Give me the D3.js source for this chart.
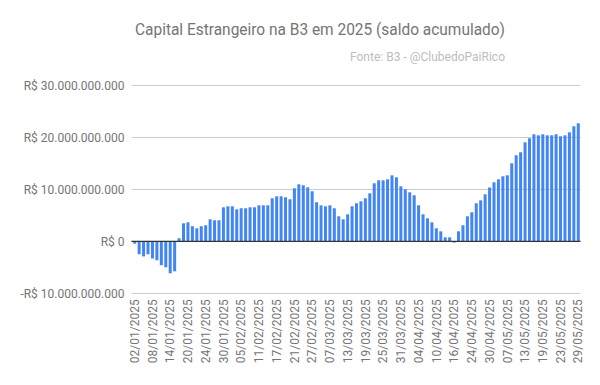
<!DOCTYPE html>
<html>
<head>
<meta charset="utf-8">
<script src="https://cdn.jsdelivr.net/npm/d3@7"></script>
<style>
  body { margin: 0; background: #fff; }
  svg { font-family: Roboto, "Noto Sans", sans-serif; }
</style>
</head>
<body>
<div id="chart"></div>
<script>
// Datas dos pregões (dd/mm/2025)
const dates = [
  "02/01","03/01","06/01","07/01","08/01","09/01","10/01","13/01","14/01","15/01","16/01","17/01","20/01","21/01","22/01","23/01","24/01","27/01","28/01","29/01","30/01","31/01",
  "03/02","04/02","05/02","06/02","07/02","10/02","11/02","12/02","13/02","14/02","17/02","18/02","19/02","20/02","21/02","24/02","25/02","26/02","27/02","28/02",
  "05/03","06/03","07/03","10/03","11/03","12/03","13/03","14/03","17/03","18/03","19/03","20/03","21/03","24/03","25/03","26/03","27/03","28/03","31/03",
  "01/04","02/04","03/04","04/04","07/04","08/04","09/04","10/04","11/04","14/04","15/04","16/04","17/04","22/04","23/04","24/04","25/04","28/04","29/04","30/04",
  "02/05","05/05","06/05","07/05","08/05","09/05","12/05","13/05","14/05","15/05","16/05","19/05","20/05","21/05","22/05","23/05","26/05","27/05","28/05","29/05"
].map(d => d + "/2025");

// Saldo acumulado em bilhões de R$
const saldoBi = [
  -0.46, -2.5, -2.9, -2.5, -3.3, -3.65, -4.6, -5.0, -6.15, -5.77,
  0.58, 3.46, 3.65, 2.9, 2.5, 2.9, 3.08, 4.23, 4.04, 4.04,
  6.54, 6.73, 6.73, 6.15, 6.35, 6.35, 6.54, 6.54, 6.92, 6.92,
  6.92, 8.27, 8.65, 8.65, 8.46, 8.08, 10.19, 10.96, 10.77, 10.38,
  9.62, 7.5, 6.92, 6.73, 6.92, 6.35, 4.81, 4.23, 5.19, 6.73,
  7.31, 7.69, 8.27, 9.23, 11.15, 11.73, 11.73, 11.92, 12.69, 12.31,
  10.58, 10.0, 9.42, 8.85, 6.92, 5.19, 4.42, 3.65, 2.5, 1.92,
  0.77, 0.77, -0.26, 1.92, 3.08, 4.81, 5.58, 7.31, 7.88, 9.04,
  10.35, 11.35, 11.92, 12.5, 12.69, 15.0, 16.54, 17.12, 19.04, 19.81,
  20.58, 20.38, 20.58, 20.38, 20.38, 20.58, 20.19, 20.38, 20.96, 22.12,
  22.69
];

const yTicks = [-10e9, 0, 10e9, 20e9, 30e9];

const data = dates.map((d, i) => ({ date: d, value: saldoBi[i] * 1e9 }));

const width = 600, height = 385;
const margin = { left: 132.5, right: 19.5, top: 85.3, bottom: 91.7 };

const svg = d3.select("#chart").append("svg")
  .attr("width", width)
  .attr("height", height);

// Título e fonte
svg.append("text")
  .attr("x", 505).attr("y", 35)
  .attr("text-anchor", "end")
  .attr("font-size", 17)
  .attr("fill", "#757575")
  .attr("textLength", 370)
  .attr("lengthAdjust", "spacingAndGlyphs")
  .text("Capital Estrangeiro na B3 em 2025 (saldo acumulado)");

svg.append("text")
  .attr("x", 505).attr("y", 61)
  .attr("text-anchor", "end")
  .attr("font-size", 13)
  .attr("fill", "#bdbdbd")
  .attr("textLength", 155)
  .attr("lengthAdjust", "spacingAndGlyphs")
  .text("Fonte: B3 - @ClubedoPaiRico");

const x = d3.scaleBand()
  .domain(dates)
  .range([margin.left, width - margin.right])
  .paddingInner(0.32)
  .paddingOuter(0.16);

const y = d3.scaleLinear()
  .domain([-10e9, 30e9])
  .range([height - margin.bottom, margin.top]);

const brl = d3.formatLocale({
  decimal: ",", thousands: ".", grouping: [3], currency: ["R$ ", ""], minus: "-"
});
const fmt = brl.format("$,.0f");

// Linhas de grade
svg.append("g")
  .selectAll("line")
  .data(yTicks)
  .enter().append("line")
  .attr("x1", margin.left - 1)
  .attr("x2", width - margin.right)
  .attr("y1", d => Math.round(y(d)) + 0.5)
  .attr("y2", d => Math.round(y(d)) + 0.5)
  .attr("stroke", "#cccccc")
  .attr("stroke-width", 1);

// Eixo Y
const yAxis = svg.append("g")
  .attr("transform", `translate(${margin.left - 8},0)`)
  .call(d3.axisLeft(y).tickValues(yTicks).tickFormat(fmt).tickSize(0).tickPadding(0));
yAxis.select(".domain").remove();
yAxis.selectAll("text")
  .attr("font-size", 12)
  .attr("font-family", "Roboto, sans-serif")
  .attr("fill", "#757575");

// Barras
svg.append("g")
  .selectAll("rect")
  .data(data)
  .enter().append("rect")
  .attr("x", d => x(d.date))
  .attr("width", x.bandwidth())
  .attr("y", d => y(Math.max(0, d.value)))
  .attr("height", d => Math.abs(y(d.value) - y(0)))
  .attr("fill", "#4285f4");

// Linha do zero
svg.append("line")
  .attr("x1", margin.left - 1)
  .attr("x2", width - margin.right)
  .attr("y1", y(0))
  .attr("y2", y(0))
  .attr("stroke", "#333333")
  .attr("stroke-width", 1.2);

// Eixo X: um rótulo a cada 4 pregões
const xAxis = svg.append("g")
  .attr("transform", `translate(0,${height - margin.bottom})`)
  .call(d3.axisBottom(x).tickValues(dates.filter((d, i) => i % 4 === 0)).tickSize(0).tickPadding(0));
xAxis.select(".domain").remove();
xAxis.selectAll("text")
  .attr("font-size", 12)
  .attr("font-family", "Roboto, sans-serif")
  .attr("fill", "#757575")
  .attr("text-anchor", "end")
  .attr("transform", "translate(0,6) rotate(-90)")
  .attr("dx", 0)
  .attr("dy", "0.35em");
</script>
</body>
</html>
